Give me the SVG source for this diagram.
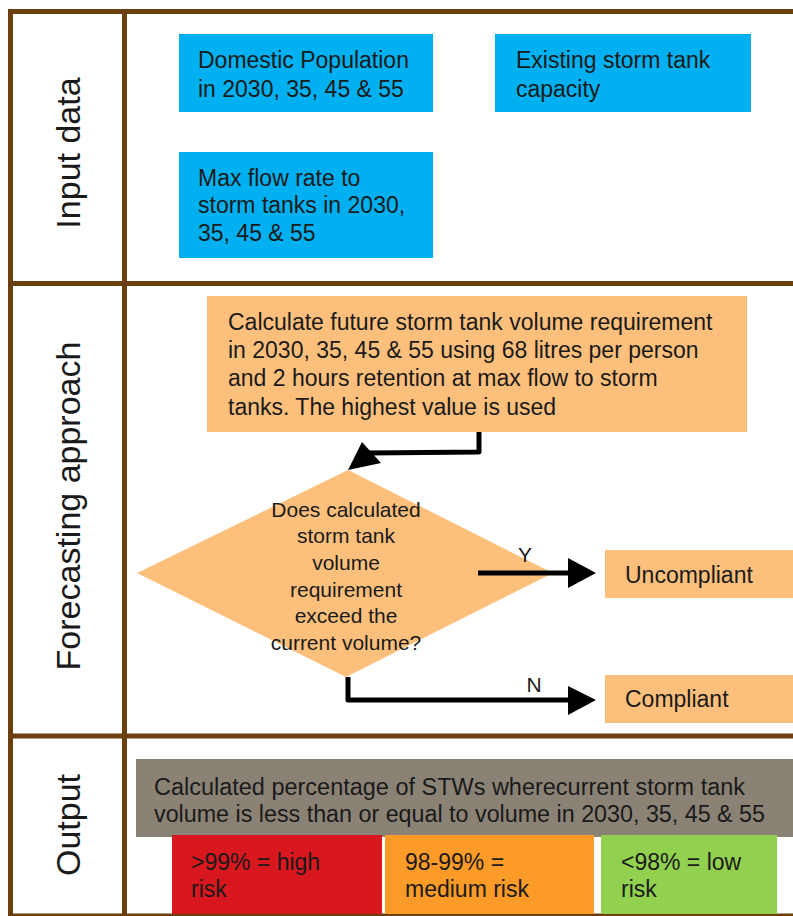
<svg xmlns="http://www.w3.org/2000/svg" width="793" height="916" viewBox="0 0 793 916">
<style>
  .frame { stroke: #6B400E; stroke-width: 5; fill: none; }
  .lbl { font-family: "Liberation Sans", Arial, sans-serif; font-size: 34px; fill: #1a1a1a; text-anchor: middle; }
  .t { font-family: "Liberation Sans", Arial, sans-serif; font-size: 23px; fill: #1a1a1a; }
  .td { font-family: "Liberation Sans", Arial, sans-serif; font-size: 21px; fill: #1a1a1a; text-anchor: middle; }
  .blue { fill: #00B0F0; }
  .orange { fill: #FDC07C; }
  .conn { stroke: #000; stroke-width: 5; fill: none; stroke-linejoin: round; }
  .head { fill: #000; }
</style>
<rect width="793" height="916" fill="#fff"/>
<g id="frame">
  <line class="frame" x1="8" y1="11.5" x2="793" y2="11.5"/>
  <line class="frame" x1="10.5" y1="9" x2="10.5" y2="916"/>
  <line class="frame" x1="124.5" y1="9" x2="124.5" y2="916"/>
  <line class="frame" x1="8" y1="283.5" x2="793" y2="283.5"/>
  <line class="frame" x1="8" y1="736" x2="793" y2="736"/>
  <line class="frame" x1="8" y1="915" x2="793" y2="915" style="stroke-width:3"/>
</g>
<g id="lane-labels">
  <text class="lbl" transform="translate(80,153) rotate(-90)">Input data</text>
  <text class="lbl" transform="translate(80,506) rotate(-90)">Forecasting approach</text>
  <text class="lbl" transform="translate(80,825) rotate(-90)">Output</text>
</g>
<g id="domestic-population">
  <rect class="blue" x="179" y="34" width="254" height="78"/>
  <text class="t" x="198" y="68">Domestic Population</text>
  <text class="t" x="198" y="97">in 2030, 35, 45 &amp; 55</text>
</g>
<g id="existing-capacity">
  <rect class="blue" x="495" y="34" width="256" height="78"/>
  <text class="t" x="516" y="68">Existing storm tank</text>
  <text class="t" x="516" y="97">capacity</text>
</g>
<g id="max-flow">
  <rect class="blue" x="179" y="152" width="254" height="106"/>
  <text class="t" x="198" y="186">Max flow rate to</text>
  <text class="t" x="198" y="213">storm tanks in 2030,</text>
  <text class="t" x="198" y="241">35, 45 &amp; 55</text>
</g>
<g id="calculate">
  <rect class="orange" x="207" y="296" width="540" height="136"/>
  <text class="t" x="228" y="330">Calculate future storm tank volume requirement</text>
  <text class="t" x="228" y="358">in 2030, 35, 45 &amp; 55 using 68 litres per person</text>
  <text class="t" x="228" y="386">and 2 hours retention at max flow to storm</text>
  <text class="t" x="228" y="415">tanks. The highest value is used</text>
</g>
<g id="decision">
  <polygon class="orange" points="348,470 553,573 346,677 137,573"/>
  <text class="td" x="346" y="517">Does calculated</text>
  <text class="td" x="346" y="543">storm tank</text>
  <text class="td" x="346" y="570">volume</text>
  <text class="td" x="346" y="597">requirement</text>
  <text class="td" x="346" y="623">exceed the</text>
  <text class="td" x="346" y="650">current volume?</text>
</g>
<g id="uncompliant">
  <rect class="orange" x="605" y="550" width="188" height="48"/>
  <text class="t" x="625" y="583">Uncompliant</text>
</g>
<g id="compliant">
  <rect class="orange" x="605" y="675" width="188" height="48"/>
  <text class="t" x="625" y="707">Compliant</text>
</g>
<g id="connectors">
  <polyline class="conn" points="479,432 479,452 368,453"/>
  <polygon class="head" points="348,470 362,442 381,463"/>
  <line class="conn" x1="478" y1="573" x2="570" y2="573" style="stroke-linejoin:miter"/>
  <polygon class="head" points="568,558 596,573 568,588"/>
  <polyline class="conn" points="348,677 348,700 570,700"/>
  <polygon class="head" points="568,686 596,700 568,715"/>
  <text class="td" x="525" y="562">Y</text>
  <text class="td" x="534" y="692">N</text>
</g>
<g id="output-summary">
  <rect x="136" y="759" width="657" height="78" fill="#8A8275"/>
  <text class="t" x="154" y="795" textLength="591" lengthAdjust="spacingAndGlyphs">Calculated percentage of STWs wherecurrent storm tank</text>
  <text class="t" x="154" y="822" textLength="611" lengthAdjust="spacingAndGlyphs">volume is less than or equal to volume in 2030, 35, 45 &amp; 55</text>
</g>
<g id="high-risk">
  <rect x="172" y="835" width="210" height="79" fill="#D9171F"/>
  <text class="t" x="191" y="870">&gt;99% = high</text>
  <text class="t" x="191" y="897">risk</text>
</g>
<g id="medium-risk">
  <rect x="385" y="835" width="209" height="79" fill="#FD9B28"/>
  <text class="t" x="405" y="870">98-99% =</text>
  <text class="t" x="405" y="897">medium risk</text>
</g>
<g id="low-risk">
  <rect x="601" y="835" width="176" height="79" fill="#92D050"/>
  <text class="t" x="621" y="870">&lt;98% = low</text>
  <text class="t" x="621" y="897">risk</text>
</g>
</svg>
